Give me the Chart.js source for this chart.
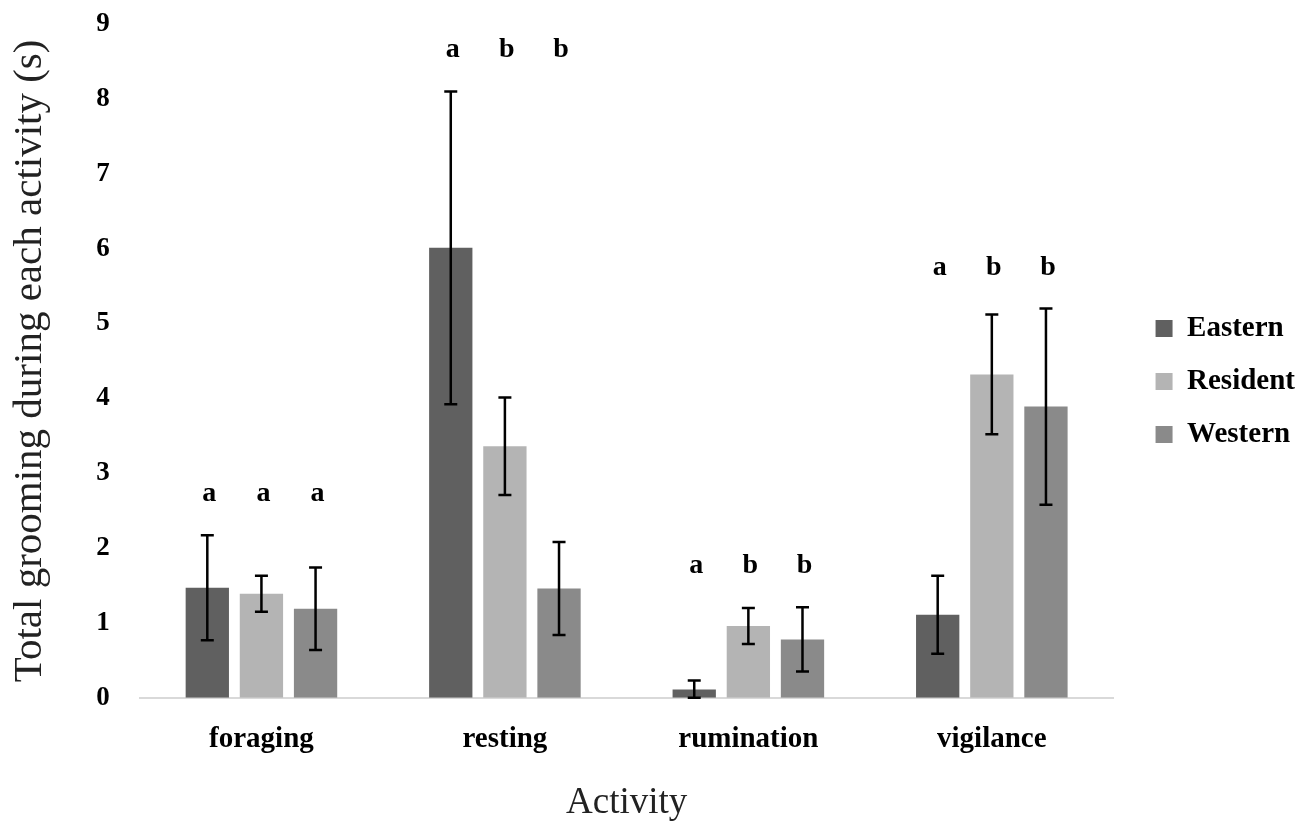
<!DOCTYPE html>
<html>
<head>
<meta charset="utf-8">
<script src="https://cdn.jsdelivr.net/npm/chart.js@4.4.1/dist/chart.umd.min.js"></script>
<style>
  html, body { margin: 0; padding: 0; background: #fff; }
  canvas { display: block; }
</style>
</head>
<body>
<canvas id="grooming-chart" width="1309" height="822"></canvas>
<script>
const categories = ['foraging', 'resting', 'rumination', 'vigilance'];

const eastern = [1.47, 6.01, 0.11, 1.11];
const resident = [1.39, 3.36, 0.96, 4.32];
const western = [1.19, 1.46, 0.78, 3.89];

// symmetric error bar half-widths
const easternErr = [0.70, 2.09, 0.12, 0.52];
const residentErr = [0.24, 0.65, 0.24, 0.80];
const westernErr = [0.55, 0.62, 0.43, 1.31];

// significance letters per series
const easternLetters = ['a', 'a', 'a', 'a'];
const residentLetters = ['a', 'b', 'b', 'b'];
const westernLetters = ['a', 'b', 'b', 'b'];

const yTicks = [0, 1, 2, 3, 4, 5, 6, 7, 8, 9];

const SERIF = '"Liberation Serif", "Times New Roman", Times, serif';

const errorBars = {
  id: 'errorBars',
  afterDatasetsDraw(chart) {
    const ctx = chart.ctx;
    const y = chart.scales.y;
    ctx.save();
    ctx.strokeStyle = '#000';
    ctx.lineWidth = 2.5;
    chart.data.datasets.forEach((ds, i) => {
      const meta = chart.getDatasetMeta(i);
      meta.data.forEach((bar, j) => {
        const v = ds.data[j];
        const e = ds.errors[j];
        const top = y.getPixelForValue(v + e);
        const bottom = y.getPixelForValue(Math.max(v - e, 0));
        const cap = 6.5;
        ctx.beginPath();
        ctx.moveTo(bar.x, top);
        ctx.lineTo(bar.x, bottom);
        ctx.moveTo(bar.x - cap, top);
        ctx.lineTo(bar.x + cap, top);
        ctx.moveTo(bar.x - cap, bottom);
        ctx.lineTo(bar.x + cap, bottom);
        ctx.stroke();
      });
    });
    ctx.restore();
  }
};

const letterLabels = {
  id: 'letterLabels',
  afterDatasetsDraw(chart) {
    const ctx = chart.ctx;
    const y = chart.scales.y;
    const sets = chart.data.datasets;
    ctx.save();
    ctx.fillStyle = '#000';
    ctx.font = 'bold 28px ' + SERIF;
    ctx.textAlign = 'center';
    ctx.textBaseline = 'middle';
    categories.forEach((c, j) => {
      const groupTop = Math.max(...sets.map(ds => ds.data[j] + ds.errors[j]));
      const py = y.getPixelForValue(groupTop + 0.55);
      sets.forEach((ds, i) => {
        const bar = chart.getDatasetMeta(i).data[j];
        ctx.fillText(ds.letters[j], bar.x + 2, py);
      });
    });
    ctx.restore();
  }
};

// nudge the legend away from the plot and up a bit, like the original
const legendShift = {
  id: 'legendShift',
  afterLayout(chart) {
    const lg = chart.legend;
    if (!lg) return;
    lg.left += 18;
    lg.right += 18;
    lg.top -= 31;
    lg.bottom -= 31;
  }
};

const ctx = document.getElementById('grooming-chart').getContext('2d');

new Chart(ctx, {
  type: 'bar',
  data: {
    labels: categories,
    datasets: [
      {
        label: 'Eastern',
        data: eastern,
        errors: easternErr,
        letters: easternLetters,
        backgroundColor: '#606060'
      },
      {
        label: 'Resident',
        data: resident,
        errors: residentErr,
        letters: residentLetters,
        backgroundColor: '#b4b4b4'
      },
      {
        label: 'Western',
        data: western,
        errors: westernErr,
        letters: westernLetters,
        backgroundColor: '#8a8a8a'
      }
    ]
  },
  options: {
    responsive: false,
    animation: false,
    devicePixelRatio: 1,
    categoryPercentage: 0.667,
    barPercentage: 0.8,
    layout: {
      padding: { top: 0, right: 22, bottom: -3, left: 6 }
    },
    plugins: {
      tooltip: { enabled: false },
      legend: {
        position: 'right',
        labels: {
          color: '#000',
          boxWidth: 17,
          boxHeight: 17,
          padding: 24,
          font: { family: SERIF, size: 29, weight: 'bold' }
        }
      }
    },
    scales: {
      x: {
        grid: { display: false },
        border: { display: true, color: '#d9d9d9', width: 2 },
        ticks: {
          color: '#000',
          padding: 16,
          font: { family: SERIF, size: 29, weight: 'bold' }
        },
        title: {
          display: true,
          text: 'Activity',
          color: '#222',
          padding: { top: 8, bottom: 0 },
          font: { family: SERIF, size: 37 }
        }
      },
      y: {
        min: 0,
        max: 9,
        afterBuildTicks(scale) {
          scale.ticks = yTicks.map(v => ({ value: v }));
        },
        afterFit(scale) {
          // room above the top tick only, not the tick padding as well
          scale.paddingTop = 24;
        },
        grid: { display: false },
        border: { display: false },
        ticks: {
          color: '#000',
          padding: 22,
          font: { family: SERIF, size: 27, weight: 'bold' }
        },
        title: {
          display: true,
          text: 'Total grooming during each activity (s)',
          color: '#222',
          padding: { top: 0, bottom: 19 },
          font: { family: SERIF, size: 41 }
        }
      }
    }
  },
  plugins: [errorBars, letterLabels, legendShift]
});
</script>
</body>
</html>
